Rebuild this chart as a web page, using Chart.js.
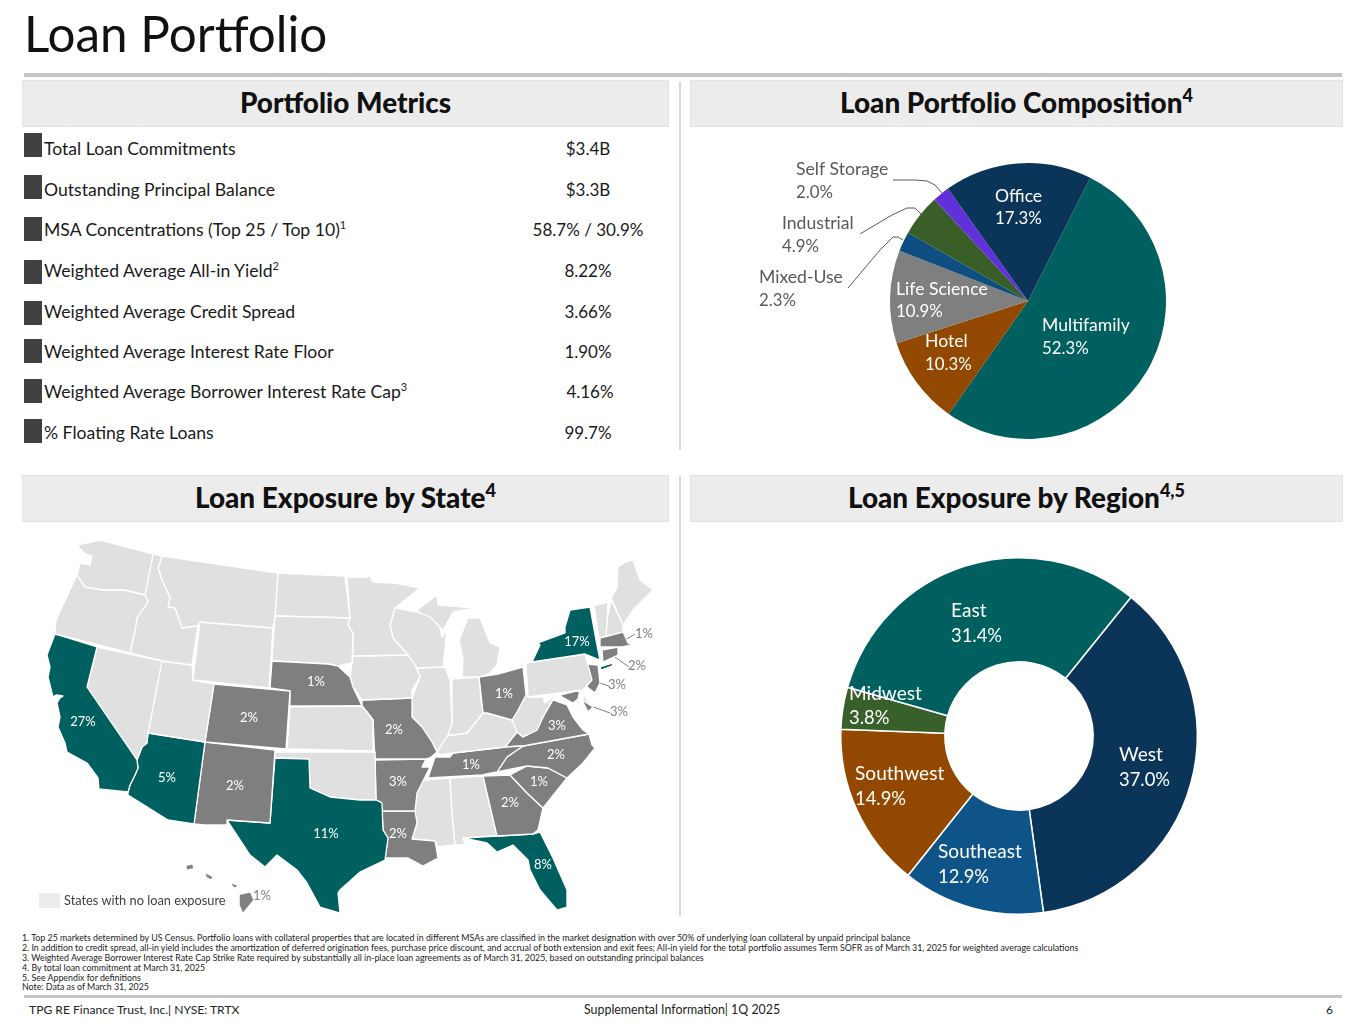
<!DOCTYPE html>
<html><head><meta charset="utf-8">
<script src="https://cdn.jsdelivr.net/npm/chart.js@4/dist/chart.umd.min.js"></script>
<style>
html,body{margin:0;padding:0;background:#fff;font-family:Lato,sans-serif;overflow:hidden}
#page{position:relative;width:1365px;height:1024px;overflow:hidden}
.a{position:absolute;white-space:nowrap}
.head{position:absolute;background:#ececec;border:1px solid #e2e2e2;box-sizing:border-box;height:47px;text-align:center;font-weight:900;font-size:27.9px;line-height:43px;color:#111}
.head sup{font-size:18px;line-height:0;vertical-align:baseline;position:relative;top:-11px}
.sq{position:absolute;left:24px;width:18px;height:24px;background:#404040}
.lab{position:absolute;left:44px;font-size:17.6px;line-height:24px;color:#1a1a1a;white-space:nowrap}
.lab sup{font-size:11px;line-height:0;vertical-align:baseline;position:relative;top:-7px}
.val{position:absolute;width:160px;text-align:center;font-size:17px;line-height:24px;color:#1a1a1a;white-space:nowrap}
.fn{position:absolute;left:22px;font-size:8.83px;line-height:10px;color:#222;white-space:nowrap}
canvas{position:absolute;display:block}
</style></head><body><div id="page">
<div class="a" style="left:24px;top:4px;font-size:49.4px;line-height:58px;color:#111">Loan Portfolio</div>
<div class="a" style="left:24px;top:73px;width:1318px;height:4px;background:#c4c4c4"></div>
<div class="head" style="left:22px;top:80px;width:647px">Portfolio Metrics</div>
<div class="head" style="left:690px;top:80px;width:653px">Loan Portfolio Composition<sup>4</sup></div>
<div class="head" style="left:22px;top:475px;width:647px">Loan Exposure by State<sup>4</sup></div>
<div class="head" style="left:690px;top:475px;width:653px">Loan Exposure by Region<sup>4,5</sup></div>
<div class="a" style="left:679px;top:82px;width:2px;height:368px;background:#d9d9d9"></div>
<div class="a" style="left:679px;top:476px;width:2px;height:440px;background:#d9d9d9"></div>
<div id="rows"></div>
<canvas id="map" style="left:20px;top:525px"></canvas>
<canvas id="pie" style="left:690px;top:130px"></canvas>
<canvas id="donut" style="left:690px;top:525px"></canvas>
<div class="a" style="left:39px;top:893px;width:21px;height:15px;background:#ededed"></div>
<div class="a" style="left:64px;top:892px;font-size:12.8px;line-height:17px;color:#404040">States with no loan exposure</div>
<div id="notes"></div>
<div class="a" style="left:24px;top:995px;width:1318px;height:3px;background:#c4c4c4"></div>
<div class="a" style="left:29px;top:1002px;font-size:12.1px;line-height:16px;color:#222">TPG RE Finance Trust, Inc.| NYSE: TRTX</div>
<div class="a" style="left:584px;top:1002px;font-size:12.4px;line-height:16px;color:#222">Supplemental Information| 1Q 2025</div>
<div class="a" style="left:1326px;top:1002px;font-size:12px;line-height:16px;color:#222">6</div>
</div>
<script>
// ---- table data
const metricNames = ['Total Loan Commitments','Outstanding Principal Balance','MSA Concentrations (Top 25 / Top 10)','Weighted Average All-in Yield','Weighted Average Credit Spread','Weighted Average Interest Rate Floor','Weighted Average Borrower Interest Rate Cap','% Floating Rate Loans'];
const metricNotes = ['','','1','2','','','3',''];
const metricValues = ['$3.4B','$3.3B','58.7% / 30.9%','8.22%','3.66%','1.90%','4.16%','99.7%'];
// ---- pie and doughnut data
const propertyTypes = ['Multifamily','Hotel','Life Science','Mixed-Use','Industrial','Self Storage','Office'];
const propertyShares = [52.3,10.3,10.9,2.3,4.9,2.0,17.3];
const regions = ['West','Southeast','Southwest','Midwest','East'];
const regionShares = [37.0,12.9,14.9,3.8,31.4];
// ---- footnotes
const footnotes = [
'1. Top 25 markets determined by US Census. Portfolio loans with collateral properties that are located in different MSAs are classified in the market designation with over 50% of underlying loan collateral by unpaid principal balance',
'2. In addition to credit spread, all-in yield includes the amortization of deferred origination fees, purchase price discount, and accrual of both extension and exit fees; All-in yield for the total portfolio assumes Term SOFR as of March 31, 2025 for weighted average calculations',
'3. Weighted Average Borrower Interest Rate Cap Strike Rate required by substantially all in-place loan agreements as of March 31, 2025, based on outstanding principal balances',
'4. By total loan commitment at March 31, 2025',
'5. See Appendix for definitions',
'Note: Data as of March 31, 2025'];
// ---- state exposure, percent
const stateExposure = {CA:27,NY:17,TX:11,FL:8,AZ:5,NJ:3,MD:3,VA:3,AR:3,CO:2,NM:2,MO:2,LA:2,GA:2,NC:2,CT:2,NE:1,OH:1,TN:1,SC:1,MA:1,HI:1};
const tealStates = ['CA','NY','TX','FL','AZ'];
// ---- state outlines, in map units
const WA=[[77,545],[100,540],[153,554],[145,595],[125,590],[103,590],[85,587],[77,575],[80,563],[90,565],[92,556],[84,553]];
const OR=[[77,575],[85,587],[103,590],[125,590],[145,595],[148,602],[137,618],[135,630],[130,653],[55,634],[56,620],[70,590]];
const CA=[[55,634],[97,647],[87,687],[137,760],[138,768],[135,775],[130,785],[128,792],[99,789],[98,778],[87,763],[67,752],[65,743],[58,727],[60,717],[57,703],[60,698],[63,696],[56,695],[53,697],[48,677],[50,667],[47,655]];
const NV=[[97,647],[162,661],[148,733],[147,743],[142,747],[137,760],[87,687]];
const ID=[[153,554],[162,556],[158,568],[162,580],[170,598],[168,607],[175,608],[182,628],[198,626],[192,665],[162,661],[130,653],[135,630],[137,618],[148,602],[145,595]];
const MT=[[162,556],[278,573],[275,616],[273,628],[200,622],[198,626],[182,628],[175,608],[168,607],[170,598],[162,580],[158,568]];
const WY=[[200,622],[273,628],[269,688],[193,680]];
const UT=[[162,661],[192,665],[193,680],[214,684],[205,742],[148,733]];
const AZ=[[148,733],[205,742],[194,824],[168,820],[128,795],[128,792],[130,785],[135,775],[138,768],[137,760],[142,747],[147,743]];
const CO=[[214,684],[290,691],[286,749],[205,742]];
const NM=[[205,742],[275,750],[270,823],[227,820],[227,825],[204,825],[194,824]];
const TX=[[275,758],[309,759],[310,788],[330,797],[360,800],[376,800],[382,803],[383,830],[388,838],[385,860],[360,872],[340,890],[338,893],[340,913],[320,907],[307,883],[297,870],[277,855],[265,867],[250,855],[227,820],[270,823]];
const OK=[[275,752],[340,752],[375,752],[376,800],[360,800],[330,797],[310,788],[309,759],[275,758]];
const KS=[[290,707],[362,706],[367,712],[373,720],[373,751],[287,749]];
const NE=[[272,661],[328,664],[338,666],[350,677],[353,687],[362,706],[290,706],[290,691],[270,688]];
const SD=[[275,616],[350,618],[348,625],[353,633],[352,663],[338,666],[328,664],[272,661]];
const ND=[[278,573],[345,576],[350,618],[275,616]];
const MN=[[347,577],[367,577],[368,572],[373,582],[395,583],[420,588],[395,608],[390,625],[393,638],[408,655],[353,656],[353,633],[348,625],[350,618]];
const IA=[[353,656],[408,655],[415,665],[420,677],[412,690],[412,698],[362,700],[353,687],[350,677],[352,663]];
const MO=[[362,700],[412,698],[412,717],[422,727],[432,742],[437,752],[430,758],[426,759],[375,759],[373,720],[367,712],[362,706]];
const AR=[[375,760],[426,759],[422,767],[430,767],[417,793],[415,811],[382,811],[381,802],[376,800]];
const LA=[[382,811],[415,811],[417,823],[412,839],[435,841],[438,858],[423,866],[408,858],[385,858],[388,838],[383,830]];
const WI=[[395,608],[417,612],[430,617],[440,627],[442,637],[447,630],[443,667],[417,668],[408,655],[393,638],[390,625]];
const MIU=[[417,610],[437,595],[438,605],[477,608],[453,612],[443,630]];
const MIL=[[459,640],[468,618],[480,618],[490,643],[500,647],[497,665],[490,673],[479,677],[462,677],[463,660]];
const IL=[[417,668],[445,667],[450,680],[452,723],[448,735],[440,747],[437,752],[432,742],[422,727],[412,717],[412,698],[420,677]];
const IN=[[452,679],[479,677],[481,700],[483,713],[467,733],[453,735],[448,735],[452,723]];
const OH=[[479,677],[498,674],[523,667],[526,695],[517,712],[512,720],[487,713],[483,713]];
const KY=[[483,713],[487,713],[512,720],[517,732],[505,747],[453,753],[440,755],[437,752],[440,747],[448,735],[453,735],[467,733]];
const TN=[[428,778],[435,757],[450,757],[453,753],[505,747],[523,746],[507,757],[497,772],[482,775]];
const WV=[[512,720],[517,712],[526,695],[528,697],[543,697],[545,703],[555,695],[543,717],[537,730],[523,737],[517,732]];
const VA=[[505,747],[517,732],[523,737],[537,730],[543,717],[553,700],[567,705],[573,717],[583,730],[589,734],[523,746]];
const NC=[[523,746],[589,734],[592,745],[595,748],[583,763],[567,778],[548,768],[527,766],[497,772],[507,757]];
const SC=[[510,775],[527,766],[548,768],[567,778],[543,808],[527,793]];
const GA=[[483,776],[510,775],[527,793],[543,808],[538,830],[533,834],[497,836]];
const FL=[[463,838],[497,836],[533,834],[540,832],[553,858],[567,890],[567,907],[557,910],[540,890],[530,870],[528,860],[513,845],[497,852],[487,843]];
const AL=[[450,778],[483,776],[497,836],[463,838],[465,845],[455,845],[452,813]];
const MS=[[423,780],[450,778],[452,813],[455,845],[438,847],[435,841],[412,839],[417,823],[415,811],[417,793]];
const NY=[[570,610],[590,607],[596,640],[600,660],[585,654],[532,662],[540,645],[538,643],[565,633],[565,627]];
const NYL=[[600,667],[613,663],[612,666],[601,670]];
const PA=[[526,663],[585,654],[592,680],[583,690],[528,697]];
const NJ=[[587,664],[598,665],[600,683],[595,693],[587,687],[590,677]];
const MD=[[560,695],[580,690],[578,699],[573,703],[562,697]];
const MDE=[[582,700],[593,707],[588,712]];
const DE=[[583,693],[590,705],[583,708]];
const MA=[[600,638],[623,632],[628,643],[632,645],[622,647],[600,647]];
const CT=[[602,650],[618,647],[618,655],[603,662]];
const VT=[[594,606],[608,602],[607,620],[606,637],[599,638]];
const NH=[[611,600],[623,625],[623,632],[606,637],[607,620]];
const ME=[[618,567],[624,563],[633,560],[640,580],[653,590],[633,610],[623,625],[611,598],[617,588]];
const HI1=[[240,895],[250,893],[253,900],[243,912],[240,905]];
const HI2=[[206,874],[212,877],[211,879],[207,877]];
const HI3=[[187,866],[192,865],[193,868],[188,869]];
const HI4=[[232,884],[237,886],[234,887]];
const stateShapes = {WA,OR,CA,NV,ID,MT,WY,UT,AZ,CO,NM,TX,OK,KS,NE,SD,ND,MN,IA,MO,AR,LA,WI,MIU,MIL,IL,IN,OH,KY,TN,WV,VA,NC,SC,GA,FL,AL,MS,NY,NYL,PA,NJ,MD,MDE,DE,MA,CT,VT,NH,ME,HI1,HI2,HI3,HI4};
const shapeOwner = {NYL:'NY',MDE:'MD',HI1:'HI',HI2:'HI',HI3:'HI',HI4:'HI'};
// ---- where each state's label sits on the map, in map units
const stateLabelAt = {CA:[83,722],AZ:[167,778],NM:[235,786],CO:[249,718],NE:[316,682],TX:[326,834],MO:[394,730],AR:[398,782],LA:[398,834],TN:[471,765],GA:[510,803],SC:[539,782],NC:[556,755],VA:[557,726],OH:[504,694],NY:[577,642],FL:[543,865],MA:[644,634],CT:[637,666],NJ:[617,685],MD:[619,712],HI:[262,896]};
const outsideLabels = ['MA','CT','NJ','MD','HI'];
const leaderLines = [[[625,640],[635,634]],[[615,657],[629,667]],[[600,683],[609,686]],[[588,705],[610,713]]];

// ---- HTML table and notes
const sqY=[133,175,217,260,301,339,379,419], labY=[137,178,218,259,300,340,380,421];
const valX={6:2};
const rows=document.getElementById('rows');
metricNames.forEach((n,i)=>{
  rows.insertAdjacentHTML('beforeend',`<div class="sq" style="top:${sqY[i]}px"></div><div class="lab" style="top:${labY[i]}px">${n}${metricNotes[i]?'<sup>'+metricNotes[i]+'</sup>':''}</div><div class="val" style="left:${508+(valX[i]||0)}px;top:${labY[i]}px">${metricValues[i]}</div>`);
});
const notes=document.getElementById('notes');
footnotes.forEach((t,i)=>{notes.insertAdjacentHTML('beforeend',`<div class="fn" style="top:${[933,943,953,963,973,982][i]}px">${t}</div>`)});

// ---- charts
Chart.defaults.animation=false;
Chart.defaults.font.family='Lato, sans-serif';
const teal='#006060', gray='#7f7f7f', none='#e0e0e0';
const shapeColor=k=>{const s=shapeOwner[k]||k; return tealStates.includes(s)?teal:(stateExposure[s]?gray:none)};
const closed=p=>[...p,p[0]].map(([x,y])=>({x,y}));
const mapSets=Object.keys(stateShapes).map(k=>({data:closed(stateShapes[k]),showLine:true,fill:'shape',backgroundColor:shapeColor(k),borderColor:k.startsWith('HI')?shapeColor(k):'#fff',borderWidth:k.startsWith('HI')?0.5:1.3,pointRadius:0,tension:0,borderJoinStyle:'round'}));
leaderLines.forEach(l=>mapSets.push({data:l.map(([x,y])=>({x,y})),showLine:true,fill:false,borderColor:'#7f7f7f',borderWidth:1,pointRadius:0}));
const mapLabels={id:'mapLabels',afterDatasetsDraw(c){
  const g=c.ctx; g.save(); g.font='13px Lato, sans-serif'; g.textAlign='center'; g.textBaseline='middle';
  Object.keys(stateLabelAt).forEach(k=>{const [x,y]=stateLabelAt[k];
    g.fillStyle=outsideLabels.includes(k)?'#7f7f7f':'#fff';
    g.fillText(stateExposure[k]+'%',c.scales.x.getPixelForValue(x),c.scales.y.getPixelForValue(y));});
  g.restore();
}};
const mapCv=document.getElementById('map'); mapCv.width=660; mapCv.height=400;
new Chart(mapCv,{type:'scatter',data:{datasets:mapSets},plugins:[mapLabels],options:{responsive:false,devicePixelRatio:1,layout:{padding:0},
  plugins:{legend:{display:false},tooltip:{enabled:false}},
  scales:{x:{type:'linear',display:false,min:20,max:680},y:{type:'linear',display:false,min:525,max:925,reverse:true}}}});

function twoLine(g,name,val,x,y1,y2,color,f1,f2){g.fillStyle=color;g.textAlign='left';g.textBaseline='middle';g.font=f1;g.fillText(name,x,y1);g.font=f2;g.fillText(val,x,y2);}

const pieLabelAt={Multifamily:[352,195,219,'#fff'],Hotel:[235,211,235,'#fff'],'Life Science':[206,159,182,'#fff'],'Mixed-Use':[69,147,171,'#595959'],Industrial:[92,93,117,'#595959'],'Self Storage':[106,39,63,'#595959'],Office:[305,66,89,'#fff']};
const pieLeaders=[[[203,50],[225,50],[237,51],[245,55],[252,63]],[[170,104],[202,85],[217,78],[225,78],[231,84]],[[158,158],[190,120],[203,107],[208,107],[213,110]]];
const pieText={id:'pieText',afterDatasetsDraw(c){const g=c.ctx;g.save();
  g.strokeStyle='#595959';g.lineWidth=1;g.lineJoin='round';
  pieLeaders.forEach(p=>{g.beginPath();p.forEach(([x,y],i)=>i?g.lineTo(x,y):g.moveTo(x,y));g.stroke();});
  propertyTypes.forEach((n,i)=>{const a=pieLabelAt[n];twoLine(g,n,propertyShares[i].toFixed(1)+'%',a[0],a[1],a[2],a[3],'17.6px Lato, sans-serif','16.8px Lato, sans-serif');});
  g.restore();}};
const pieCv=document.getElementById('pie'); pieCv.width=653; pieCv.height=320;
new Chart(pieCv,{type:'pie',data:{labels:propertyTypes,datasets:[{data:propertyShares,backgroundColor:['#006060','#934800','#7f7f7f','#0f4e80','#3a5e27','#6030d8','#0a3558'],borderWidth:0}]},plugins:[pieText],
  options:{responsive:false,devicePixelRatio:1,rotation:26.8,layout:{padding:{left:200,right:177,top:33,bottom:11}},plugins:{legend:{display:false},tooltip:{enabled:false}}}});

const donutLabelAt={West:[429,230,255],Southeast:[248,327,352],Southwest:[165,249,274],Midwest:[159,169,193],East:[261,86,111]};
const donutText={id:'donutText',afterDatasetsDraw(c){const g=c.ctx;g.save();
  regions.forEach((n,i)=>{const a=donutLabelAt[n];twoLine(g,n,regionShares[i].toFixed(1)+'%',a[0],a[1],a[2],'#fff','19.1px Lato, sans-serif','18.4px Lato, sans-serif');});
  g.restore();}};
const donutCv=document.getElementById('donut'); donutCv.width=653; donutCv.height=400;
new Chart(donutCv,{type:'doughnut',data:{labels:regions,datasets:[{data:regionShares,backgroundColor:['#0a3558','#0f5488','#934800','#38602b','#006060'],borderColor:'#fff',borderWidth:1.5}]},plugins:[donutText],
  options:{responsive:false,devicePixelRatio:1,rotation:38.9,cutout:'41.6%',layout:{padding:{left:150,right:145,top:32,bottom:10}},plugins:{legend:{display:false},tooltip:{enabled:false}}}});
</script>
</body></html>
